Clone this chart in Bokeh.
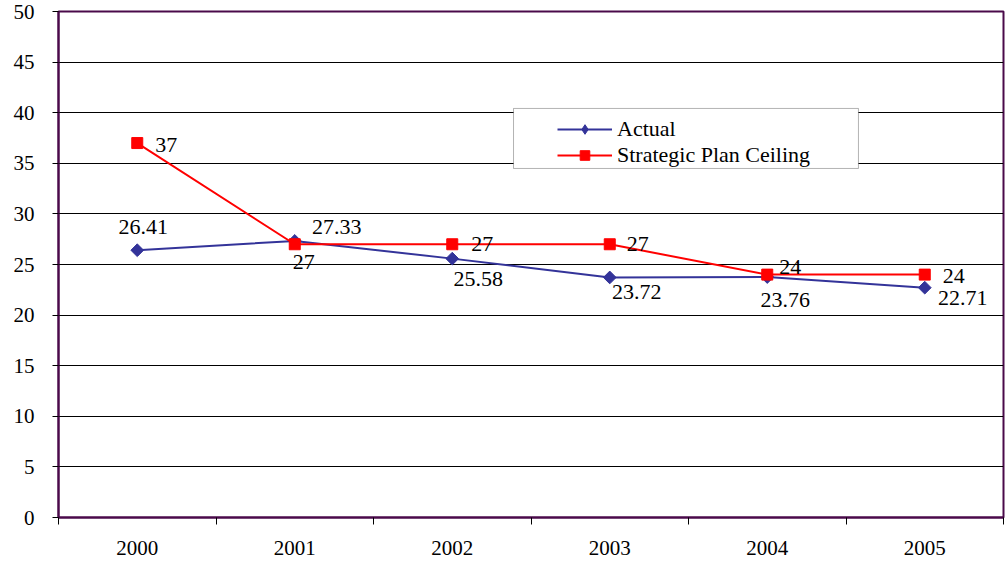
import math
from bokeh.plotting import figure
from bokeh.models import (FixedTicker, Range1d, Legend, LegendItem, BoxAnnotation,
                          ColumnDataSource)
from bokeh.embed import file_html
from bokeh.resources import INLINE
from bokeh.core.properties import value

years = ["2000", "2001", "2002", "2003", "2004", "2005"]
actual = [26.41, 27.33, 25.58, 23.72, 23.76, 22.71]
ceiling = [37, 27, 27, 27, 24, 24]
y_ticks = [0, 5, 10, 15, 20, 25, 30, 35, 40, 45, 50]

# label offsets in screen pixels (style only)
actual_dx = [6, 42, 26, 27, 18, 38]
actual_dy = [-23, -14, 20, 15, 23, 10]
ceil_dx = [29, 9, 30, 28, 23, 29]
ceil_dy = [2, 18, 0, 0, -8, 1]

FONT = "Liberation Serif"
PURPLE = "#4a0a4a"
BLUE = "#333399"
RED = "#ff0000"

n = len(years)
xs = [i + 0.5 for i in range(n)]

p = figure(width=1005, height=561, output_backend="svg", toolbar_location=None,
           x_range=Range1d(0, n), y_range=Range1d(0, 50),
           min_border_left=58, min_border_right=2, min_border_top=11, min_border_bottom=44)
p.outline_line_color = PURPLE
p.outline_line_width = 2
p.background_fill_color = "white"
p.border_fill_color = "white"

# axes
p.xaxis.ticker = FixedTicker(ticks=xs, minor_ticks=list(range(n + 1)))
p.xaxis.major_label_overrides = {x: y for x, y in zip(xs, years)}
p.xaxis.major_tick_line_color = None
p.xaxis.minor_tick_out = 7
p.xaxis.minor_tick_in = 0
p.xaxis.minor_tick_line_color = "#000000"
p.xaxis.axis_line_color = PURPLE
p.xaxis.axis_line_width = 2
p.xaxis.major_label_text_font = FONT
p.xaxis.major_label_text_font_size = "21px"
p.xaxis.major_label_text_color = "#000000"
p.xaxis.major_label_standoff = 16

p.yaxis.ticker = FixedTicker(ticks=y_ticks)
p.yaxis.minor_tick_line_color = None
p.yaxis.major_tick_out = 6
p.yaxis.major_tick_in = 0
p.yaxis.major_tick_line_color = "#000000"
p.yaxis.axis_line_color = PURPLE
p.yaxis.axis_line_width = 2
p.yaxis.major_label_text_font = FONT
p.yaxis.major_label_text_font_size = "21px"
p.yaxis.major_label_text_color = "#000000"
p.yaxis.major_label_standoff = 18

p.xgrid.grid_line_color = None
p.ygrid.ticker = FixedTicker(ticks=y_ticks)
p.ygrid.grid_line_color = "#000000"
p.ygrid.grid_line_width = 1

# series
l1 = p.line(xs, actual, line_color=BLUE, line_width=2)
m1 = p.scatter(xs, actual, marker="square", size=9, angle=math.pi / 4,
               fill_color=BLUE, line_color=BLUE)
# legend-only glyph (diamond shape for the legend swatch)
m1_leg = p.scatter([float("nan")], [float("nan")], marker="diamond", size=16,
                   fill_color=BLUE, line_color=BLUE)
l2 = p.line(xs, ceiling, line_color=RED, line_width=2)
m2 = p.scatter(xs, ceiling, marker="square", size=11, fill_color=RED, line_color=RED)

# data labels
src_a = ColumnDataSource(dict(x=xs, y=actual, t=[f"{v:g}" for v in actual],
                              dx=actual_dx, dy=actual_dy))
src_c = ColumnDataSource(dict(x=xs, y=ceiling, t=[f"{v:g}" for v in ceiling],
                              dx=ceil_dx, dy=ceil_dy))
for s in (src_a, src_c):
    p.text(x="x", y="y", text="t", x_offset="dx", y_offset="dy", source=s,
           text_font=value(FONT), text_font_size="22px", text_color="#000000",
           text_align="center", text_baseline="middle")

# legend box (white, opaque, black frame)
box = BoxAnnotation(left=2.889, right=5.079, top=40.42, bottom=34.49,
                    fill_color="white", fill_alpha=1.0,
                    line_color="#000000", line_width=1, level="annotation")
p.add_layout(box)

legend = Legend(items=[LegendItem(label="Actual", renderers=[l1, m1_leg]),
                       LegendItem(label="Strategic Plan Ceiling", renderers=[l2, m2])],
                location=(499, 349), padding=6, spacing=0, glyph_width=55,
                glyph_height=24, label_height=24, label_standoff=5,
                border_line_color=None, background_fill_alpha=0.0,
                label_text_font=FONT, label_text_font_size="22px",
                label_text_color="#000000")
p.add_layout(legend)

open("out.html", "w").write(file_html(p, INLINE))
